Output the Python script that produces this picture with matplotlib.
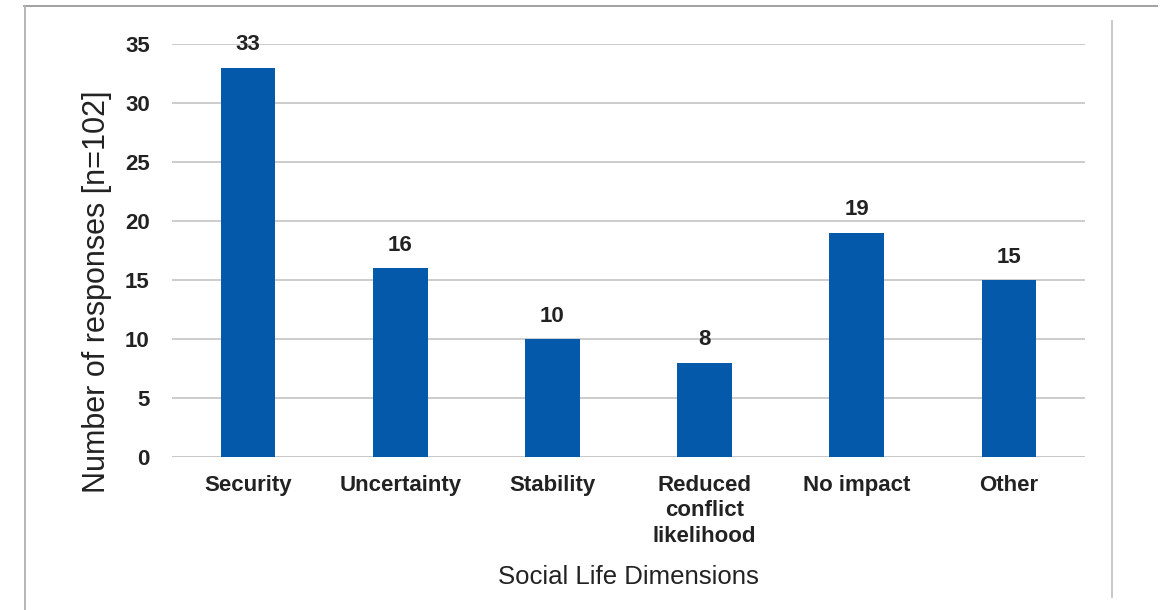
import numpy as np
import matplotlib.pyplot as plt
from matplotlib.lines import Line2D

categories = ["Security", "Uncertainty", "Stability", "Reduced\nconflict\nlikelihood", "No impact", "Other"]
responses = [33, 16, 10, 8, 19, 15]
yticks = [0, 5, 10, 15, 20, 25, 30, 35]

W, H = 1163, 610
fig = plt.figure(figsize=(W/100, H/100), dpi=100)
plt.rcParams['font.family'] = ['Liberation Sans', 'DejaVu Sans']

ax = fig.add_axes([172/W, 1-457/H, 913/W, 413/H])
x = np.arange(len(categories))
ax.bar(x, responses, width=0.36, color='#0559ab', zorder=3)
for xi, v in zip(x, responses):
    ax.annotate(str(v), (xi, v), xytext=(0, 16.5), textcoords='offset points',
                ha='center', va='center', fontsize=16, fontweight='bold', color='#222222')

ax.set_xlim(-0.5, len(categories)-0.5)
ax.set_ylim(0, 35)
ax.set_yticks(yticks)
ax.yaxis.grid(True, color='#c8c8c8', linewidth=1.3, zorder=0)
for s in ax.spines.values():
    s.set_visible(False)
ax.axhline(0, color='#c8c8c8', linewidth=1.3, zorder=2)
ax.tick_params(axis='both', length=0, labelsize=16, colors='#222222')
ax.tick_params(axis='y', pad=16)
ax.tick_params(axis='x', pad=13)
ax.set_xticks(x)
ax.set_xticklabels(categories, fontweight='bold', linespacing=1.27, va='top')
for lab in ax.get_yticklabels():
    lab.set_fontweight('bold')

ax.set_ylabel("Number of responses [n=102]", fontsize=22, color='#222222')
ax.yaxis.set_label_coords(-0.066, 0.40)
ax.set_xlabel("Social Life Dimensions", fontsize=18.5, color='#222222')
ax.xaxis.set_label_coords(0.5, -0.262)

# frame lines around the chart
fig.add_artist(Line2D([24/W, 1157/W], [1-6/H, 1-6/H], transform=fig.transFigure, color='#9a9a9a', lw=1.3))
fig.add_artist(Line2D([25/W, 25/W], [1-6/H, 0], transform=fig.transFigure, color='#b0b0b0', lw=1.3))
fig.add_artist(Line2D([1112/W, 1112/W], [1-21/H, 1-597/H], transform=fig.transFigure, color='#c4c4c4', lw=1.3))

fig.savefig("out.png", dpi=100)
